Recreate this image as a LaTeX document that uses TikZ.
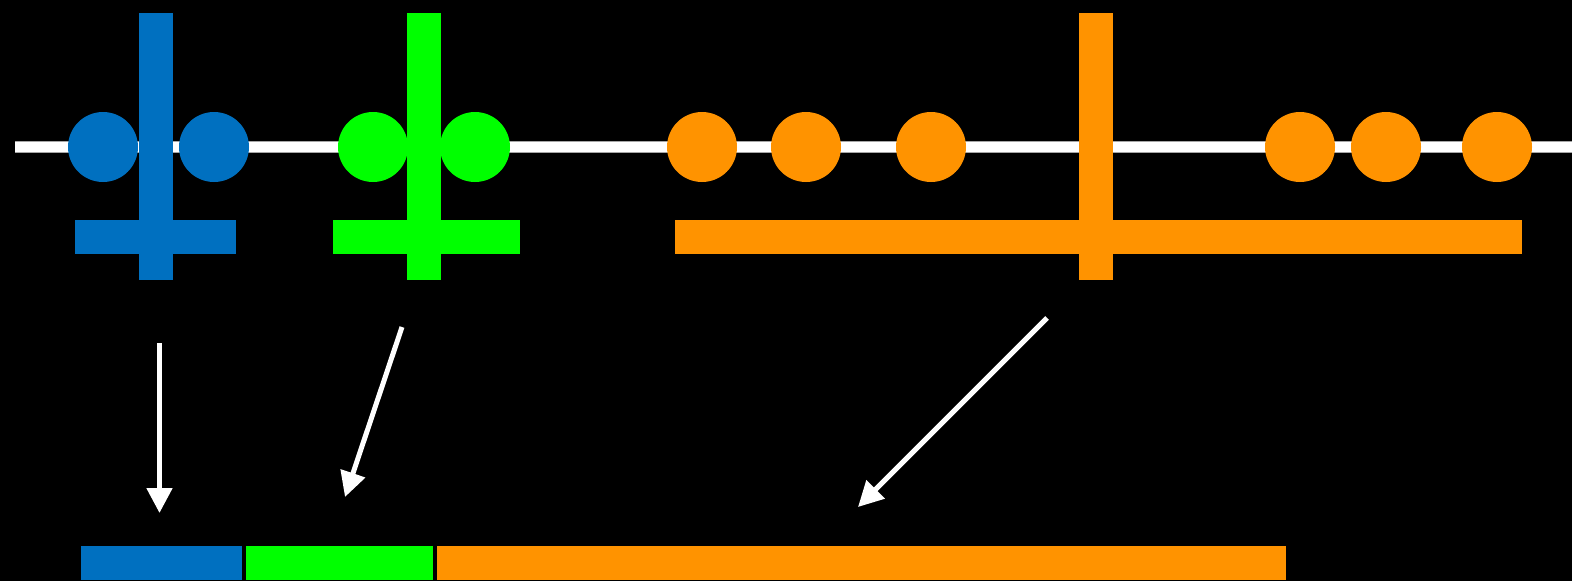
\documentclass[tikz,border=0pt]{standalone}
\usetikzlibrary{arrows.meta}
\definecolor{cblue}{RGB}{0,112,192}
\definecolor{cgreen}{RGB}{0,255,0}
\definecolor{corange}{RGB}{255,147,0}
\begin{document}
\begin{tikzpicture}[x=1pt,y=-1pt,
  bead/.style={circle,minimum size=70pt,inner sep=0pt,draw=none},
  pointer/.style={draw=white,line width=5pt,-{Triangle[length=25pt,width=25pt]}}]
\fill[black] (0,0) rectangle (1572,581);
\useasboundingbox (0,0) rectangle (1572,581);
% axis line
\fill[gray!70] (15,141) rectangle (1572,153);
\fill[white] (15,142) rectangle (1572,152);
% beads
\node[bead,fill=cblue] (b1) at (103,147) {};
\node[bead,fill=cblue] (b2) at (214,147) {};
\node[bead,fill=cgreen] (g1) at (373,147) {};
\node[bead,fill=cgreen] (g2) at (475,147) {};
\node[bead,fill=corange] (o1) at (702,147) {};
\node[bead,fill=corange] (o2) at (806,147) {};
\node[bead,fill=corange] (o3) at (931,147) {};
\node[bead,fill=corange] (o4) at (1300,147) {};
\node[bead,fill=corange] (o5) at (1386,147) {};
\node[bead,fill=corange] (o6) at (1497,147) {};
% crosses
\fill[cblue] (139,13) rectangle (173,280);
\fill[cblue] (75,220) rectangle (236,254);
\fill[cgreen] (407,13) rectangle (441,280);
\fill[cgreen] (333,220) rectangle (520,254);
\fill[corange] (1079,13) rectangle (1113,280);
\fill[corange] (675,220) rectangle (1522,254);
% bottom bars
\fill[cblue] (81,546) rectangle (242,580);
\fill[cgreen] (246,546) rectangle (433,580);
\fill[corange] (437,546) rectangle (1286,580);
% arrows
\coordinate (a1s) at (159.5,343);
\coordinate (a1e) at (159.5,513);
\coordinate (a2s) at (402,327);
\coordinate (a2e) at (345,497);
\coordinate (a3s) at (1047,318);
\coordinate (a3e) at (858,507);
\draw[pointer] (a1s) -- (a1e);
\draw[pointer] (a2s) -- (a2e);
\draw[pointer] (a3s) -- (a3e);
\end{tikzpicture}
\end{document}
